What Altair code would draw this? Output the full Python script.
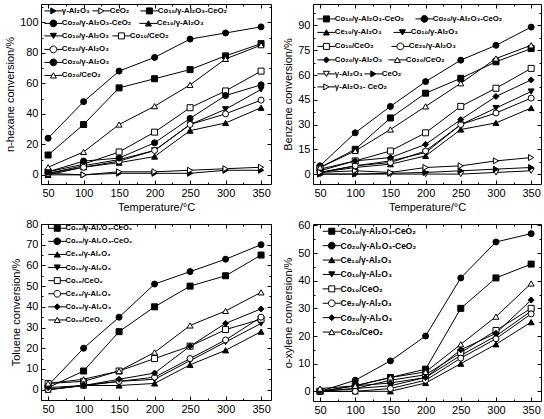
import altair as alt
import pandas as pd

# ---- data -------------------------------------------------------------
temps = [50, 100, 150, 200, 250, 300, 350]

CO10_ALCE = "Co₁₀/γ-Al₂O₃-CeO₂"
CO20_ALCE = "Co₂₀/γ-Al₂O₃-CeO₂"
CE10_AL = "Ce₁₀/γ-Al₂O₃"
CO10_AL = "Co₁₀/γ-Al₂O₃"
CO10_CE = "Co₁₀/CeO₂"
CE20_AL = "Ce₂₀/γ-Al₂O₃"
CO20_AL = "Co₂₀/γ-Al₂O₃"
CO20_CE = "Co₂₀/CeO₂"
AL = "γ-Al₂O₃"
CE = "CeO₂"
ALCE = "γ-Al₂O₃- CeO₂"

hexane = {
    AL: [0, 0, 1, 1, 1, 3, 3],
    CE: [1, 0, 2, 2, 3, 4, 5],
    CO10_ALCE: [13, 33, 57, 63, 69, 78, 86],
    CO20_ALCE: [24, 48, 68, 77, 89, 93, 97],
    CE10_AL: [0, 5, 8, 12, 29, 34, 44],
    CO10_AL: [1, 6, 10, 16, 33, 43, 56],
    CO10_CE: [2, 7, 15, 28, 44, 55, 68],
    CE20_AL: [1, 5, 9, 16, 33, 40, 49],
    CO20_AL: [2, 9, 11, 21, 37, 52, 59],
    CO20_CE: [5, 15, 33, 45, 59, 76, 85],
}

benzene = {
    CO10_ALCE: [4, 15, 34, 49, 58, 68, 76],
    CO20_ALCE: [5, 25, 41, 56, 69, 78, 89],
    CE10_AL: [1, 4, 6, 11, 27, 31, 40],
    CO10_AL: [1, 5, 8, 13, 30, 40, 50],
    CO10_CE: [3, 8, 14, 25, 41, 52, 64],
    CE20_AL: [1, 5, 7, 14, 30, 37, 46],
    CO20_AL: [2, 8, 10, 18, 33, 47, 57],
    CO20_CE: [4, 14, 27, 41, 55, 70, 78],
    AL: [0, 0, 0, 0, 0, 1, 2],
    CE: [0, 0, 0.5, 1, 2, 3, 4],
    ALCE: [1, 2, 1, 4, 5, 8, 10],
}

toluene = {
    CO10_ALCE: [1, 9, 28, 40, 50, 55, 65],
    CO20_ALCE: [2, 20, 35, 51, 57, 63, 70],
    CE10_AL: [0, 2, 2, 3, 12, 19, 28],
    CO10_AL: [0, 2, 4, 5, 14, 23, 32],
    CO10_CE: [3, 4, 9, 15, 21, 29, 34],
    CE20_AL: [0, 2, 4, 6, 15, 24, 35],
    CO20_AL: [1, 2, 5, 8, 21, 32, 39],
    CO20_CE: [3, 5, 9, 18, 31, 38, 47],
}

xylene = {
    CO10_ALCE: [0, 2, 5, 8, 30, 41, 46],
    CO20_ALCE: [0, 4, 11, 20, 41, 54, 57],
    CE10_AL: [0, 0, 0, 3, 10, 17, 25],
    CO10_AL: [0, 1, 2, 5, 13, 20, 29],
    CO10_CE: [0, 1, 4, 6, 14, 22, 30],
    CE20_AL: [0, 0, 1, 4, 12, 19, 28],
    CO20_AL: [0, 2, 3, 5, 15, 21, 33],
    CO20_CE: [1, 2, 5, 7, 17, 27, 39],
}

# ---- marker styles: (shape, filled) -----------------------------------
base_styles = {
    CO10_ALCE: ("square", True),
    CO20_ALCE: ("circle", True),
    CE10_AL: ("triangle-up", True),
    CO10_AL: ("triangle-down", True),
    CO10_CE: ("square", False),
    CE20_AL: ("circle", False),
    CO20_AL: ("diamond", True),
    CO20_CE: ("triangle-up", False),
}
styles_hex = dict(base_styles, **{AL: ("triangle-right", True), CE: ("triangle-right", False)})
styles_hex[CO20_AL] = ("circle", True)
styles_benz = dict(base_styles, **{AL: ("triangle-down", False), CE: ("triangle-right", True),
                                   ALCE: ("triangle-right", False)})

# legend symbols: marker with a short line through it (unit box coordinates)
HL = 3.0


def _seg(a):
    return f"M-{HL},0L-{a},0M{a},0L{HL},0"


legend_paths = {
    "square": "M-1,-1L1,-1L1,1L-1,1Z" + _seg(1),
    "circle": "M1.13,0A1.13,1.13,0,1,1,-1.13,0A1.13,1.13,0,1,1,1.13,0Z" + _seg(1.13),
    "triangle-up": "M0,-0.866L1,0.866L-1,0.866Z" + _seg(0.5),
    "triangle-down": "M0,0.866L1,-0.866L-1,-0.866Z" + _seg(0.5),
    "diamond": "M-1,0L0,-1L1,0L0,1Z" + _seg(1),
    "triangle-right": "M0.866,0L-0.866,1L-0.866,-1Z" + _seg(0.866),
}

FONT = "Liberation Sans"
XDOM = [40, 364]
x_minor = [75, 125, 175, 225, 275, 325]
SYM = 36
SYM_OFF = (SYM ** 0.5 + 1) / 2


def panel(values, styles, ytitle, ydom, yticks, yminor, width, height, legend_pos, lab_size):
    rows = [{"series": s, "t": t, "v": v}
            for s, vals in values.items() for t, v in zip(temps, vals)]
    df = pd.DataFrame(rows)
    names = list(values.keys())
    xs = alt.Scale(domain=XDOM, nice=False, zero=False)
    ys = alt.Scale(domain=ydom, nice=False, zero=False)
    base = alt.Chart(df)
    empty = base.transform_filter("datum.t < 0")

    def ax(orient, vals, size, labels=False, title=None, **kw):
        return alt.Axis(orient=orient, values=vals, labels=labels, title=title,
                        offset=-size, tickSize=size, domain=False, grid=False,
                        tickColor="black", minExtent=0, **kw)

    lines = base.mark_line(color="black", strokeWidth=1).encode(
        x=alt.X("t:Q", scale=xs, axis=ax("bottom", temps, 4, labels=True, title="Temperature/°C",
                                          labelPadding=3, titlePadding=3)),
        y=alt.Y("v:Q", scale=ys, axis=ax("left", yticks, 4, labels=True, title=ytitle,
                                          labelPadding=3, titlePadding=4)),
        detail="series:N",
    )
    pts = base.mark_point(filled=True, opacity=1, size=SYM, stroke="black", strokeWidth=1).encode(
        x=alt.X("t:Q", scale=xs, axis=None),
        y=alt.Y("v:Q", scale=ys, axis=None),
        shape=alt.Shape("series:N", scale=alt.Scale(domain=names, range=[styles[n][0] for n in names]),
                        legend=None),
        fill=alt.Fill("series:N", scale=alt.Scale(domain=names,
                                                  range=["black" if styles[n][1] else "white" for n in names]),
                      legend=None),
    )
    ticks_tr = empty.mark_point().encode(
        x=alt.X("t:Q", scale=xs, axis=ax("top", temps, 4)),
        y=alt.Y("v:Q", scale=ys, axis=ax("right", yticks, 4)),
    )
    minor_bl = empty.mark_point().encode(
        x=alt.X("t:Q", scale=xs, axis=ax("bottom", x_minor, 2)),
        y=alt.Y("v:Q", scale=ys, axis=ax("left", yminor, 2)),
    )
    minor_tr = empty.mark_point().encode(
        x=alt.X("t:Q", scale=xs, axis=ax("top", x_minor, 2)),
        y=alt.Y("v:Q", scale=ys, axis=ax("right", yminor, 2)),
    )
    layers = [lines, pts, ticks_tr, minor_bl, minor_tr]

    for name, (cx, cy) in legend_pos.items():
        shp, filled = styles[name]
        leg = alt.Legend(orient="none", legendX=cx - SYM_OFF, legendY=cy - 6, title=None,
                         symbolSize=SYM, symbolStrokeColor="black", symbolStrokeWidth=1,
                         labelOffset=4.5, padding=0, labelFont=FONT, labelFontSize=lab_size,
                         labelFontWeight="bold", labelColor="black", labelBaseline="middle")
        layers.append(
            empty.mark_point(filled=True, opacity=1, stroke="black", strokeWidth=1).encode(
                shape=alt.Shape("series:N", scale=alt.Scale(domain=[name], range=[legend_paths[shp]]),
                                legend=leg),
                fill=alt.Fill("series:N", scale=alt.Scale(domain=[name],
                                                          range=["black" if filled else "white"]),
                              legend=leg),
                stroke=alt.Stroke("series:N", scale=alt.Scale(domain=[name], range=["black"]),
                                  legend=leg),
            )
        )

    return alt.layer(*layers).resolve_scale(
        shape="independent", fill="independent", stroke="independent"
    ).resolve_axis(x="independent", y="independent").properties(width=width, height=height)


# legend entry positions (symbol centre, relative to plot area)
pos_hex = {
    AL: (12, 9), CE: (60, 9), CO10_ALCE: (108, 9),
    CO20_ALCE: (12, 21.5), CE10_AL: (107, 21.5),
    CO10_AL: (12, 34), CO10_CE: (80, 34),
    CE20_AL: (12, 47.5),
    CO20_AL: (12, 60.5),
    CO20_CE: (12, 73.5),
}
pos_benz = {
    CO10_ALCE: (13, 17), CO20_ALCE: (111, 17),
    CE10_AL: (13, 30.5), CO10_AL: (89, 30.5),
    CO10_CE: (13, 44.5), CE20_AL: (87, 44.5),
    CO20_AL: (13, 58), CO20_CE: (84, 58),
    AL: (13, 72), CE: (60, 72),
    ALCE: (13, 85),
}
order8 = [CO10_ALCE, CO20_ALCE, CE10_AL, CO10_AL, CO10_CE, CE20_AL, CO20_AL, CO20_CE]
pos_tol = {n: (16, 6.5 + 13.1 * i) for i, n in enumerate(order8)}
pos_xyl = {n: (18, 9 + 14.4 * i) for i, n in enumerate(order8)}

p1 = panel(hexane, styles_hex, "n-hexane conversion/%", [-6, 112], [0, 20, 40, 60, 80, 100],
           [10, 30, 50, 70, 90, 110], 230, 180, pos_hex, 7.8)
p2 = panel(benzene, styles_benz, "Benzene conversion/%", [-6, 103], [0, 15, 30, 45, 60, 75, 90],
           [7.5, 22.5, 37.5, 52.5, 67.5, 82.5, 97.5], 228, 180, pos_benz, 7.8)
p3 = panel(toluene, base_styles, "Toluene conversion/%", [-5, 80], [0, 10, 20, 30, 40, 50, 60, 70, 80],
           [5, 15, 25, 35, 45, 55, 65, 75], 230, 176, pos_tol, 7.5)
p4 = panel(xylene, base_styles, "o-xylene conversion/%", [-3.5, 60.5], [0, 10, 20, 30, 40, 50, 60],
           [5, 15, 25, 35, 45, 55], 228, 177, pos_xyl, 8.5)

chart = alt.concat(p1, p2, p3, p4, columns=2, spacing={"row": 4, "column": 10}).resolve_scale(
    shape="independent", fill="independent", stroke="independent"
).configure_view(stroke="black", strokeWidth=1).configure_axis(
    labelFont=FONT, labelFontSize=11, labelColor="black",
    titleFont=FONT, titleFontSize=11, titleFontWeight="normal", titleColor="black",
).properties(background="white", padding={"left": 4, "top": 3, "right": 0, "bottom": 0})

chart.save("out.html", embed_options={"renderer": "svg", "actions": False})
